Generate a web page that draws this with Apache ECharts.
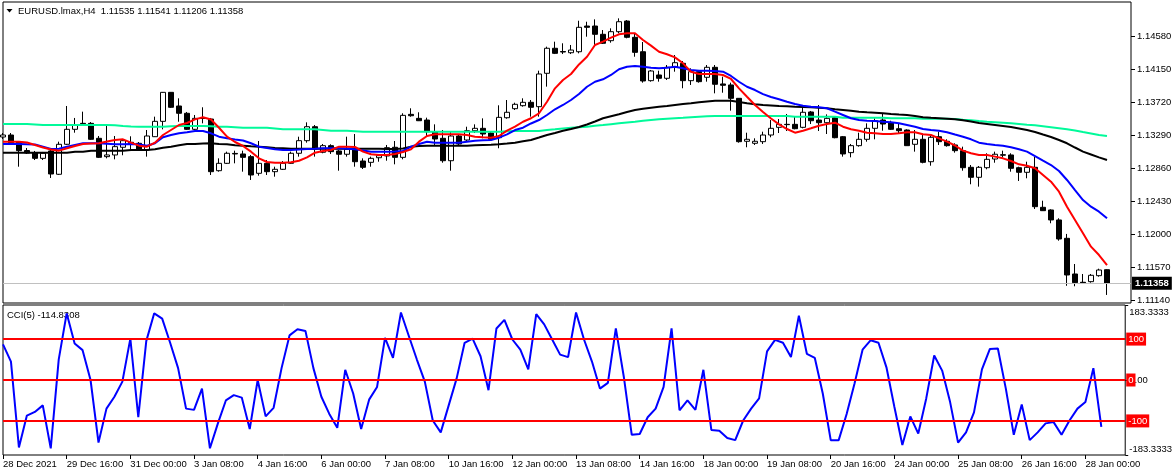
<!DOCTYPE html>
<html><head><meta charset="utf-8">
<script src="https://cdn.jsdelivr.net/npm/echarts@6/dist/echarts.min.js"></script>
<style>html,body{margin:0;padding:0;background:#fff}#c{width:1175px;height:476px}</style>
</head><body><div id="c"></div>
<script>
const symbolName = 'EURUSD.lmax,H4';
const cciName = 'CCI(5)';
const days = ['28 Dec','29 Dec','30 Dec','31 Dec','3 Jan','4 Jan','5 Jan','6 Jan','7 Jan','10 Jan','11 Jan','12 Jan','13 Jan','14 Jan','17 Jan','18 Jan','19 Jan','20 Jan','21 Jan','24 Jan','25 Jan','26 Jan','27 Jan','28 Jan'];
const hours = ['00:00','04:00','08:00','12:00','16:00','20:00'];
const tickLabels = ['28 Dec 2021','29 Dec 16:00','31 Dec 00:00','3 Jan 08:00','4 Jan 16:00','6 Jan 00:00','7 Jan 08:00','10 Jan 16:00','12 Jan 00:00','13 Jan 08:00','14 Jan 16:00','18 Jan 00:00','19 Jan 08:00','20 Jan 16:00','24 Jan 00:00','25 Jan 08:00','26 Jan 16:00','28 Jan 00:00'];
const priceTicks = [1.11140,1.11570,1.12000,1.12430,1.12860,1.13290,1.13720,1.14150,1.14580];
const cciTicks = [183.3333, 0, -183.3333];
const cciLevels = [100, 0, -100];

const open = [
1.13264,1.13290,1.13199,1.13088,1.13056,1.12986,1.13082,1.12778,1.13169,1.13364,
1.13442,1.13442,1.13247,1.13008,1.13030,1.13130,1.13195,1.13182,1.13095,1.13268,
1.13468,1.13846,1.13668,1.13573,1.13364,1.13518,1.13498,1.12825,1.12921,1.13050,
1.13043,1.13008,1.12791,1.12921,1.12812,1.12843,1.12921,1.13052,1.13216,1.13398,
1.13065,1.13151,1.13082,1.13039,1.13108,1.12951,1.12934,1.12994,1.13017,1.13130,
1.12999,1.13559,1.13507,1.13485,1.13333,1.13247,1.12955,1.13277,1.13225,1.13346,
1.13377,1.13316,1.13255,1.13515,1.13633,1.13672,1.13716,1.13659,1.14094,1.14420,
1.14378,1.14362,1.14375,1.14710,1.14710,1.14602,1.14519,1.14636,1.14775,1.14563,
1.14375,1.13998,1.14072,1.14029,1.14172,1.14224,1.13998,1.14115,1.14042,1.14172,
1.13955,1.13942,1.13768,1.13208,1.13182,1.13203,1.13290,1.13390,1.13429,1.13429,
1.13390,1.13590,1.13485,1.13450,1.13516,1.13268,1.13060,1.13151,1.13234,1.13377,
1.13485,1.13450,1.13372,1.13355,1.13169,1.13234,1.12942,1.13268,1.13208,1.13160,
1.13086,1.12869,1.12739,1.12864,1.12977,1.13033,1.13030,1.12864,1.12804,1.12869,
1.12348,1.12313,1.12183,1.11944,1.11479,1.11371,1.11379,1.11457,1.11535];
const close = [
1.13290,1.13190,1.13086,1.13056,1.12986,1.13052,1.12782,1.13169,1.13364,1.13416,
1.13436,1.13234,1.12999,1.13030,1.13138,1.13216,1.13173,1.13104,1.13277,1.13468,
1.13846,1.13651,1.13573,1.13364,1.13507,1.13505,1.12812,1.12921,1.13052,1.13043,
1.12999,1.12769,1.12921,1.12812,1.12843,1.12921,1.13052,1.13216,1.13398,1.13108,
1.13151,1.13073,1.13039,1.13104,1.12942,1.12869,1.12986,1.13021,1.13125,1.12999,
1.13546,1.13541,1.13476,1.13333,1.13238,1.12955,1.13277,1.13173,1.13346,1.13377,
1.13303,1.13234,1.13520,1.13586,1.13690,1.13716,1.13651,1.14085,1.14420,1.14354,
1.14371,1.14397,1.14693,1.14693,1.14602,1.14485,1.14636,1.14766,1.14563,1.14367,
1.13994,1.14124,1.14029,1.14172,1.14232,1.13998,1.14115,1.13985,1.14172,1.13951,
1.13938,1.13768,1.13203,1.13234,1.13208,1.13290,1.13377,1.13429,1.13425,1.13372,
1.13586,1.13476,1.13450,1.13507,1.13255,1.13043,1.13151,1.13234,1.13377,1.13476,
1.13433,1.13364,1.13346,1.13151,1.13234,1.12934,1.13260,1.13203,1.13151,1.13086,
1.12864,1.12739,1.12869,1.12973,1.13039,1.13027,1.12856,1.12804,1.12869,1.12356,
1.12304,1.12183,1.11935,1.11466,1.11366,1.11362,1.11462,1.11531,1.11358];
const low = [
1.13238,1.13179,1.12877,1.13043,1.12964,1.12964,1.12730,1.12769,1.13160,1.13320,
1.13420,1.13225,1.12990,1.12986,1.12973,1.13026,1.13091,1.13095,1.13008,1.13264,
1.13364,1.13642,1.13463,1.13355,1.13355,1.13442,1.12769,1.12812,1.12912,1.12921,
1.12812,1.12704,1.12760,1.12769,1.12747,1.12834,1.12912,1.13008,1.13190,1.13008,
1.13052,1.13043,1.12825,1.13008,1.12877,1.12847,1.12877,1.12942,1.12955,1.12908,
1.12973,1.13528,1.13472,1.13268,1.13160,1.12929,1.12825,1.13151,1.13203,1.13316,
1.13247,1.13225,1.13117,1.13502,1.13616,1.13659,1.13529,1.13529,1.13920,1.14345,
1.14345,1.14345,1.14354,1.14571,1.14463,1.14476,1.14493,1.14615,1.14550,1.14310,
1.13972,1.13985,1.13985,1.14007,1.14115,1.13899,1.13942,1.13972,1.13985,1.13833,
1.13841,1.13607,1.13190,1.13130,1.13160,1.13173,1.13260,1.13316,1.13342,1.13364,
1.13377,1.13433,1.13342,1.13303,1.13247,1.13008,1.12999,1.13138,1.13203,1.13234,
1.13346,1.13355,1.13316,1.13147,1.13073,1.12921,1.12890,1.13160,1.13138,1.13060,
1.12825,1.12648,1.12617,1.12843,1.12929,1.12999,1.12812,1.12691,1.12726,1.12326,
1.12300,1.12140,1.11913,1.11325,1.11319,1.11349,1.11366,1.11444,1.11206];
const high = [
1.13316,1.13316,1.13212,1.13121,1.13082,1.13069,1.13095,1.13203,1.13668,1.13512,
1.13594,1.13459,1.13277,1.13429,1.13277,1.13234,1.13273,1.13199,1.13355,1.13529,
1.13850,1.13850,1.13768,1.13590,1.13551,1.13651,1.13512,1.12986,1.13073,1.13086,
1.13086,1.13030,1.13212,1.12964,1.12877,1.12951,1.13073,1.13268,1.13455,1.13420,
1.13173,1.13169,1.13095,1.13268,1.13303,1.12986,1.13008,1.13039,1.13160,1.13212,
1.13573,1.13638,1.13586,1.13516,1.13429,1.13355,1.13333,1.13303,1.13398,1.13429,
1.13507,1.13329,1.13677,1.13746,1.13711,1.13768,1.13746,1.14128,1.14441,1.14506,
1.14485,1.14463,1.14779,1.14766,1.14797,1.14658,1.14680,1.14810,1.14788,1.14615,
1.14502,1.14137,1.14128,1.14202,1.14332,1.14254,1.14159,1.14137,1.14202,1.14202,
1.14050,1.13972,1.13772,1.13320,1.13247,1.13333,1.13485,1.13498,1.13564,1.13529,
1.13659,1.13603,1.13681,1.13559,1.13525,1.13277,1.13173,1.13320,1.13442,1.13507,
1.13573,1.13476,1.13442,1.13364,1.13355,1.13290,1.13290,1.13333,1.13234,1.13182,
1.13138,1.12899,1.12886,1.13052,1.13073,1.13086,1.13052,1.12877,1.12942,1.13004,
1.12434,1.12322,1.12205,1.12001,1.11609,1.11479,1.11479,1.11548,1.11541];

const maRed = [
1.13203,1.13203,1.13203,1.13192,1.13160,1.13127,1.13101,1.13086,1.13117,1.13147,
1.13173,1.13179,1.13182,1.13205,1.13225,1.13234,1.13190,1.13151,1.13138,1.13190,
1.13290,1.13355,1.13420,1.13446,1.13494,1.13521,1.13492,1.13385,1.13268,1.13199,
1.13147,1.13073,1.12986,1.12938,1.12929,1.12929,1.12934,1.12955,1.12999,1.13060,
1.13082,1.13095,1.13138,1.13138,1.13134,1.13073,1.13039,1.13030,1.13030,1.13043,
1.13069,1.13104,1.13203,1.13277,1.13299,1.13299,1.13299,1.13299,1.13290,1.13268,
1.13260,1.13255,1.13277,1.13346,1.13398,1.13463,1.13508,1.13573,1.13724,1.13898,
1.14007,1.14085,1.14209,1.14310,1.14463,1.14506,1.14558,1.14602,1.14615,1.14615,
1.14528,1.14454,1.14375,1.14342,1.14302,1.14224,1.14115,1.14085,1.14085,1.14085,
1.14072,1.14020,1.13898,1.13789,1.13681,1.13590,1.13505,1.13429,1.13368,1.13320,
1.13346,1.13377,1.13411,1.13433,1.13450,1.13398,1.13364,1.13346,1.13320,1.13312,
1.13303,1.13303,1.13312,1.13325,1.13325,1.13299,1.13290,1.13247,1.13203,1.13153,
1.13086,1.13052,1.13030,1.13030,1.13008,1.12986,1.12951,1.12908,1.12890,1.12856,
1.12769,1.12681,1.12551,1.12356,1.12183,1.12009,1.11835,1.11726,1.11596];
const maBlue = [
1.13173,1.13173,1.13173,1.13169,1.13166,1.13138,1.13108,1.13112,1.13138,1.13160,
1.13182,1.13182,1.13182,1.13177,1.13169,1.13169,1.13173,1.13166,1.13151,1.13182,
1.13260,1.13290,1.13312,1.13325,1.13342,1.13342,1.13312,1.13268,1.13247,1.13231,
1.13218,1.13182,1.13138,1.13121,1.13104,1.13095,1.13095,1.13101,1.13108,1.13112,
1.13117,1.13117,1.13117,1.13112,1.13104,1.13088,1.13073,1.13073,1.13073,1.13075,
1.13082,1.13138,1.13173,1.13203,1.13190,1.13190,1.13190,1.13190,1.13203,1.13216,
1.13221,1.13225,1.13255,1.13299,1.13355,1.13385,1.13440,1.13485,1.13551,1.13625,
1.13681,1.13746,1.13824,1.13919,1.13984,1.14016,1.14072,1.14146,1.14180,1.14189,
1.14180,1.14167,1.14159,1.14167,1.14180,1.14159,1.14137,1.14128,1.14128,1.14124,
1.14115,1.14059,1.13984,1.13919,1.13876,1.13822,1.13785,1.13755,1.13724,1.13694,
1.13672,1.13659,1.13651,1.13638,1.13594,1.13551,1.13508,1.13485,1.13476,1.13472,
1.13463,1.13455,1.13442,1.13420,1.13398,1.13368,1.13355,1.13346,1.13325,1.13296,
1.13268,1.13234,1.13190,1.13173,1.13160,1.13151,1.13130,1.13104,1.13073,1.13016,
1.12955,1.12899,1.12821,1.12704,1.12573,1.12443,1.12356,1.12291,1.12205];
const maBlack = [
1.13060,1.13060,1.13060,1.13060,1.13060,1.13060,1.13060,1.13060,1.13060,1.13073,
1.13073,1.13086,1.13086,1.13086,1.13086,1.13086,1.13095,1.13095,1.13095,1.13104,
1.13124,1.13138,1.13156,1.13173,1.13173,1.13179,1.13182,1.13173,1.13169,1.13156,
1.13151,1.13144,1.13138,1.13130,1.13121,1.13117,1.13112,1.13112,1.13112,1.13112,
1.13112,1.13112,1.13112,1.13112,1.13112,1.13112,1.13112,1.13112,1.13108,1.13108,
1.13114,1.13138,1.13147,1.13151,1.13151,1.13151,1.13151,1.13151,1.13151,1.13156,
1.13160,1.13164,1.13169,1.13179,1.13190,1.13208,1.13225,1.13257,1.13290,1.13316,
1.13346,1.13368,1.13394,1.13427,1.13466,1.13508,1.13534,1.13560,1.13590,1.13616,
1.13631,1.13646,1.13657,1.13668,1.13681,1.13694,1.13704,1.13716,1.13727,1.13737,
1.13737,1.13737,1.13720,1.13703,1.13690,1.13681,1.13675,1.13668,1.13664,1.13659,
1.13655,1.13651,1.13644,1.13638,1.13626,1.13616,1.13605,1.13594,1.13587,1.13581,
1.13573,1.13564,1.13557,1.13551,1.13538,1.13521,1.13514,1.13508,1.13502,1.13494,
1.13482,1.13466,1.13446,1.13433,1.13420,1.13407,1.13394,1.13375,1.13355,1.13329,
1.13296,1.13264,1.13225,1.13182,1.13127,1.13073,1.13036,1.12999,1.12964];
const maGreen = [
1.13433,1.13433,1.13433,1.13433,1.13427,1.13420,1.13420,1.13420,1.13420,1.13420,
1.13420,1.13420,1.13420,1.13420,1.13416,1.13407,1.13401,1.13398,1.13398,1.13398,
1.13398,1.13403,1.13407,1.13407,1.13407,1.13407,1.13403,1.13398,1.13398,1.13392,
1.13385,1.13385,1.13385,1.13385,1.13375,1.13364,1.13364,1.13364,1.13364,1.13364,
1.13355,1.13346,1.13346,1.13346,1.13340,1.13333,1.13333,1.13333,1.13333,1.13333,
1.13333,1.13333,1.13333,1.13333,1.13333,1.13333,1.13333,1.13333,1.13333,1.13333,
1.13333,1.13333,1.13333,1.13338,1.13342,1.13342,1.13342,1.13342,1.13355,1.13364,
1.13375,1.13385,1.13392,1.13398,1.13410,1.13420,1.13431,1.13442,1.13453,1.13463,
1.13475,1.13485,1.13494,1.13502,1.13509,1.13515,1.13522,1.13528,1.13534,1.13538,
1.13538,1.13538,1.13538,1.13538,1.13538,1.13538,1.13538,1.13538,1.13538,1.13528,
1.13528,1.13528,1.13528,1.13528,1.13528,1.13515,1.13515,1.13515,1.13515,1.13515,
1.13515,1.13508,1.13508,1.13508,1.13508,1.13502,1.13502,1.13502,1.13502,1.13498,
1.13489,1.13482,1.13472,1.13463,1.13457,1.13450,1.13442,1.13433,1.13424,1.13416,
1.13403,1.13390,1.13377,1.13364,1.13349,1.13329,1.13310,1.13290,1.13277];
const cci = [
87,45,-165,-87,-78,-62,-167,50,163,89,
73,0,-153,-70,-41,-4,101,-91,95,163,
150,91,29,-70,-73,-21,-167,-106,-50,-37,
-43,-120,0,-89,-68,29,109,124,120,29,
-41,-83,-117,25,-33,-120,-48,-17,103,54,
165,107,50,-4,-99,-128,-62,4,91,101,
58,-25,126,147,99,74,26,161,136,99,
62,56,165,99,45,-21,-7,126,8,-134,
-132,-91,-70,-17,126,-74,-50,-73,25,-122,
-124,-142,-147,-99,-70,-45,70,98,91,56,
157,64,54,-33,-147,-147,-83,-8,74,97,
91,31,-66,-159,-89,-131,-45,60,23,-54,
-153,-128,-79,26,76,77,-21,-134,-60,-147,
-128,-106,-103,-134,-99,-70,-54,29,-114.8308];

const categories = [];
days.forEach((d, i) => hours.forEach((h, j) => { if (i === 0 && j < 2) return; categories.push(d + ' ' + h); }));

const FF = 'Liberation Sans';
const FS = 9.5;
const last = open.length - 1;
const lastPrice = close[last];
const headText = symbolName + '  ' + [open[last], high[last], low[last], close[last]].map(v => v.toFixed(5)).join(' ');
const tickOn = (i) => i % 8 === 0 && i / 8 < tickLabels.length;

const chart = echarts.init(document.getElementById('c'));
const maSeries = (name, data, color) => ({
  type: 'line', name, data, xAxisIndex: 0, yAxisIndex: 0, showSymbol: false, symbol: 'none',
  silent: true, z: 3, lineStyle: { color, width: 2 }, itemStyle: { color }
});
chart.setOption({
  animation: false,
  backgroundColor: '#ffffff',
  grid: [
    { left: 3, top: 2, width: 1128, height: 301, show: true, borderColor: '#000', borderWidth: 1 },
    { left: 3, top: 305, width: 1128, height: 150, show: true, borderColor: '#000', borderWidth: 1 }
  ],
  xAxis: [
    { type: 'category', gridIndex: 0, data: categories, boundaryGap: false,
      axisLine: { show: false, onZero: false }, axisTick: { show: false }, axisLabel: { show: false }, splitLine: { show: false } },
    { type: 'category', gridIndex: 1, data: categories, boundaryGap: false, position: 'bottom',
      axisLine: { show: false, onZero: false },
      axisTick: { show: true, interval: tickOn, length: 4, lineStyle: { color: '#000' } },
      axisLabel: { interval: tickOn, formatter: (v, i) => tickLabels[i / 8], align: 'left', margin: 4,
        fontFamily: FF, fontSize: FS, color: '#000' },
      splitLine: { show: false } }
  ],
  yAxis: [
    { type: 'value', gridIndex: 0, position: 'right', min: 1.11101, max: 1.15023,
      axisLine: { show: false },
      axisTick: { show: true, customValues: priceTicks, length: 4, lineStyle: { color: '#000' } },
      axisLabel: { customValues: priceTicks, formatter: v => v.toFixed(5), margin: 6,
        fontFamily: FF, fontSize: FS, color: '#000' },
      splitLine: { show: false } },
    { type: 'value', gridIndex: 1, position: 'right', min: -183.3333, max: 183.3333,
      axisLine: { show: false },
      axisTick: { show: true, customValues: cciTicks, length: 3, lineStyle: { color: '#000' } },
      axisLabel: { customValues: cciTicks,
        formatter: v => (v === 0 ? '0.00' : (v > 0 ? '{dn|' + v.toFixed(4) + '}' : '{up|' + v.toFixed(4) + '}')),
        rich: { dn: { padding: [14, 0, 0, 0], fontFamily: FF, fontSize: FS, color: '#000' },
                up: { padding: [0, 0, 12, 0], fontFamily: FF, fontSize: FS, color: '#000' } },
        margin: 4, fontFamily: FF, fontSize: FS, color: '#000' },
      splitLine: { show: false } }
  ],
  series: [
    { type: 'line', name: 'bid', xAxisIndex: 0, yAxisIndex: 0, data: [], z: 1,
      markLine: { silent: true, symbol: 'none', animation: false, precision: 5,
        data: [{ yAxis: lastPrice }],
        lineStyle: { color: '#c0c0c0', width: 1, type: 'solid' },
        label: { show: true, position: 'end', formatter: lastPrice.toFixed(5), backgroundColor: '#000', color: '#fff',
          padding: [2, 3, 1, 3], distance: 1, fontFamily: FF, fontSize: FS, fontWeight: 'bold' } } },
    { type: 'candlestick', name: symbolName, xAxisIndex: 0, yAxisIndex: 0, z: 2,
      data: open.map((o, i) => [o, close[i], low[i], high[i]]),
      barWidth: 5,
      itemStyle: { color: '#ffffff', color0: '#000000', borderColor: '#000000', borderColor0: '#000000', borderWidth: 1 } },
    maSeries('MA slow', maGreen, '#00fa9a'),
    maSeries('MA 50', maBlack, '#000000'),
    maSeries('MA mid', maBlue, '#0000ff'),
    maSeries('MA fast', maRed, '#ff0000'),
    { type: 'line', name: 'levels', xAxisIndex: 1, yAxisIndex: 1, data: [], z: 1,
      markLine: { silent: true, symbol: 'none', animation: false, precision: 4,
        data: cciLevels.map(v => ({ yAxis: v })),
        lineStyle: { color: '#ff0000', width: 2, type: 'solid' },
        label: { show: true, position: 'end', formatter: p => String(p.value), backgroundColor: '#ff0000', color: '#fff',
          padding: [2, 2, 1, 2], distance: 1, fontFamily: FF, fontSize: FS } } },
    { type: 'line', name: cciName, xAxisIndex: 1, yAxisIndex: 1, data: cci, showSymbol: false, symbol: 'none',
      z: 3, silent: true, lineStyle: { color: '#0000ff', width: 2 }, itemStyle: { color: '#0000ff' } }
  ],
  graphic: [
    { type: 'polygon', shape: { points: [[6.5, 9], [12.5, 9], [9.5, 12.5]] }, style: { fill: '#000' } },
    { type: 'text', left: 18, top: 6, style: { text: headText, fontFamily: FF, fontSize: FS, fill: '#000' } },
    { type: 'text', left: 7, top: 310, style: { text: cciName + ' ' + cci[last].toFixed(4), fontFamily: FF, fontSize: FS, fill: '#000' } }
  ]
});
</script>
</body></html>
